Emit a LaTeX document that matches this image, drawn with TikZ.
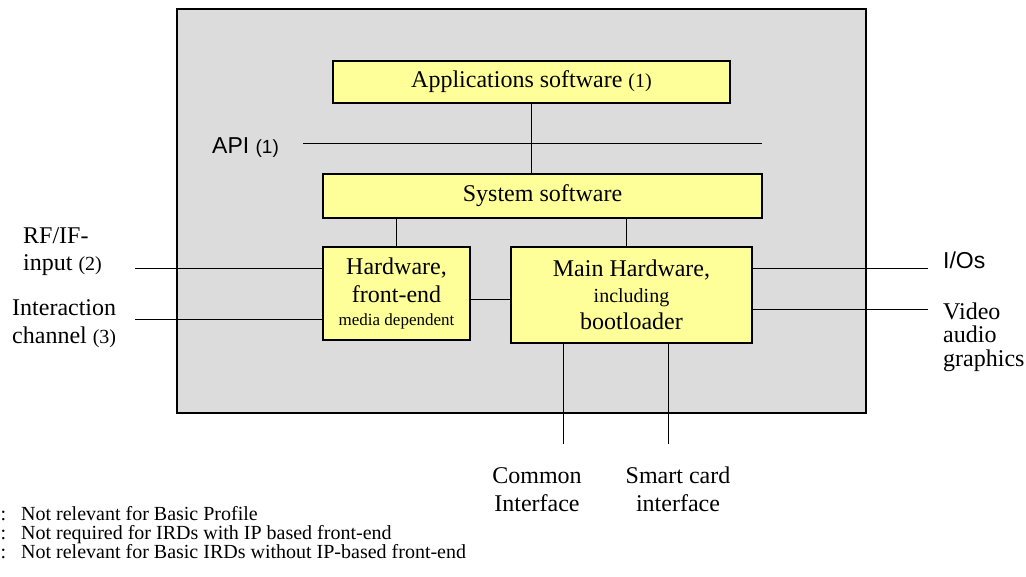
\documentclass[tikz,border=0pt]{standalone}
\usepackage{fontspec}
\setmainfont{Liberation Serif}
\newfontfamily\arialf{Liberation Sans}
\definecolor{panelgray}{RGB}{220,220,220}
\definecolor{boxyellow}{RGB}{255,255,153}
\newcommand{\fs}[2]{\fontsize{#1}{#2}\selectfont}
\begin{document}
\begin{tikzpicture}[x=1pt,y=-1pt,
  unit/.style={draw=black, line width=1.3pt, fill=boxyellow, inner sep=0pt, align=center},
  wire/.style={line width=1pt},
  lbl/.style={inner sep=0pt, align=left},
  clbl/.style={inner sep=0pt, align=center},
  big/.style={font=\fs{24}{27}},
  note/.style={inner sep=0pt, anchor=base west, font=\fs{20}{24}},
]
\useasboundingbox (0,0) rectangle (1026,576);
% panel
\draw[line width=1.6pt, fill=panelgray] (177,9) rectangle (866,413);
% boxes
\node[unit, minimum width=397pt, minimum height=42pt, big] (app) at (531.5,82)
  {Applications software {\fs{20}{24}(1)}};
\node[unit, minimum width=439pt, minimum height=44pt, big] (sys) at (542.5,196)
  {System software};
\node[unit, minimum width=147pt, minimum height=93pt, font=\fs{24}{28}] (fe) at (396.5,293.5)
  {Hardware,\\ front-end\\[-5pt] {\fs{17}{20}media dependent}};
\node[unit, minimum width=241pt, minimum height=96pt, font=\fs{24}{28}] (main) at (631.5,295)
  {Main Hardware,\\[-2pt] {\fs{20}{24}including}\\[-1pt] bootloader};
% free ends
\coordinate (apiL) at (303,143);
\coordinate (apiR) at (762,143);
\coordinate (rfL) at (135,268);
\coordinate (icL) at (135,319);
\coordinate (ioR) at (928,268);
\coordinate (vaR) at (928,309);
\coordinate (ciB) at (563,444);
\coordinate (scB) at (668,444);
% connectors
\draw[wire] (apiL) -- (apiR);
\draw[wire] (app.south) -- (app.south |- sys.north);
\draw[wire] (fe.north |- sys.south) -- (fe.north);
\draw[wire] (sys.south -| 626,0) -- (main.north -| 626,0);
\draw[wire] (fe.east |- 0,299) -- (main.west |- 0,299);
\draw[wire] (rfL) -- (rfL -| fe.west);
\draw[wire] (icL) -- (icL -| fe.west);
\draw[wire] (ioR -| main.east) -- (ioR);
\draw[wire] (vaR -| main.east) -- (vaR);
\draw[wire] (ciB |- main.south) -- (ciB);
\draw[wire] (scB |- main.south) -- (scB);
% labels (base anchor = baseline of last line)
\node[lbl, anchor=base west, font=\arialf\fs{23}{27}] (api) at (212,153) {API {\fs{19}{24}(1)}};
\node[lbl, anchor=base west, font=\fs{24}{27}] (rf) at (23,270) {RF/IF-\\input {\fs{20}{24}(2)}};
\node[lbl, anchor=base west, font=\fs{24}{28}] (ic) at (12,343) {Interaction\\channel {\fs{20}{24}(3)}};
\node[lbl, anchor=base west, font=\arialf\fs{23}{27}] (io) at (943,268) {I/Os};
\node[lbl, anchor=base west, font=\fs{24}{23.5}] (va) at (943,366) {Video\\audio\\graphics};
\node[clbl, anchor=base, font=\fs{24}{28}] (ci) at (537,511) {Common\\Interface};
\node[clbl, anchor=base, font=\fs{24}{28}] (sc) at (678,511) {Smart card\\interface};
% footnotes
\node[note] (n1) at (21,520) {\llap{1:\hspace{15pt}}Not relevant for Basic Profile};
\node[note] (n2) at (21,539) {\llap{2:\hspace{15pt}}Not required for IRDs with IP based front-end};
\node[note] (n3) at (21,558) {\llap{3:\hspace{15pt}}Not relevant for Basic IRDs without IP-based front-end};
\end{tikzpicture}
\end{document}
